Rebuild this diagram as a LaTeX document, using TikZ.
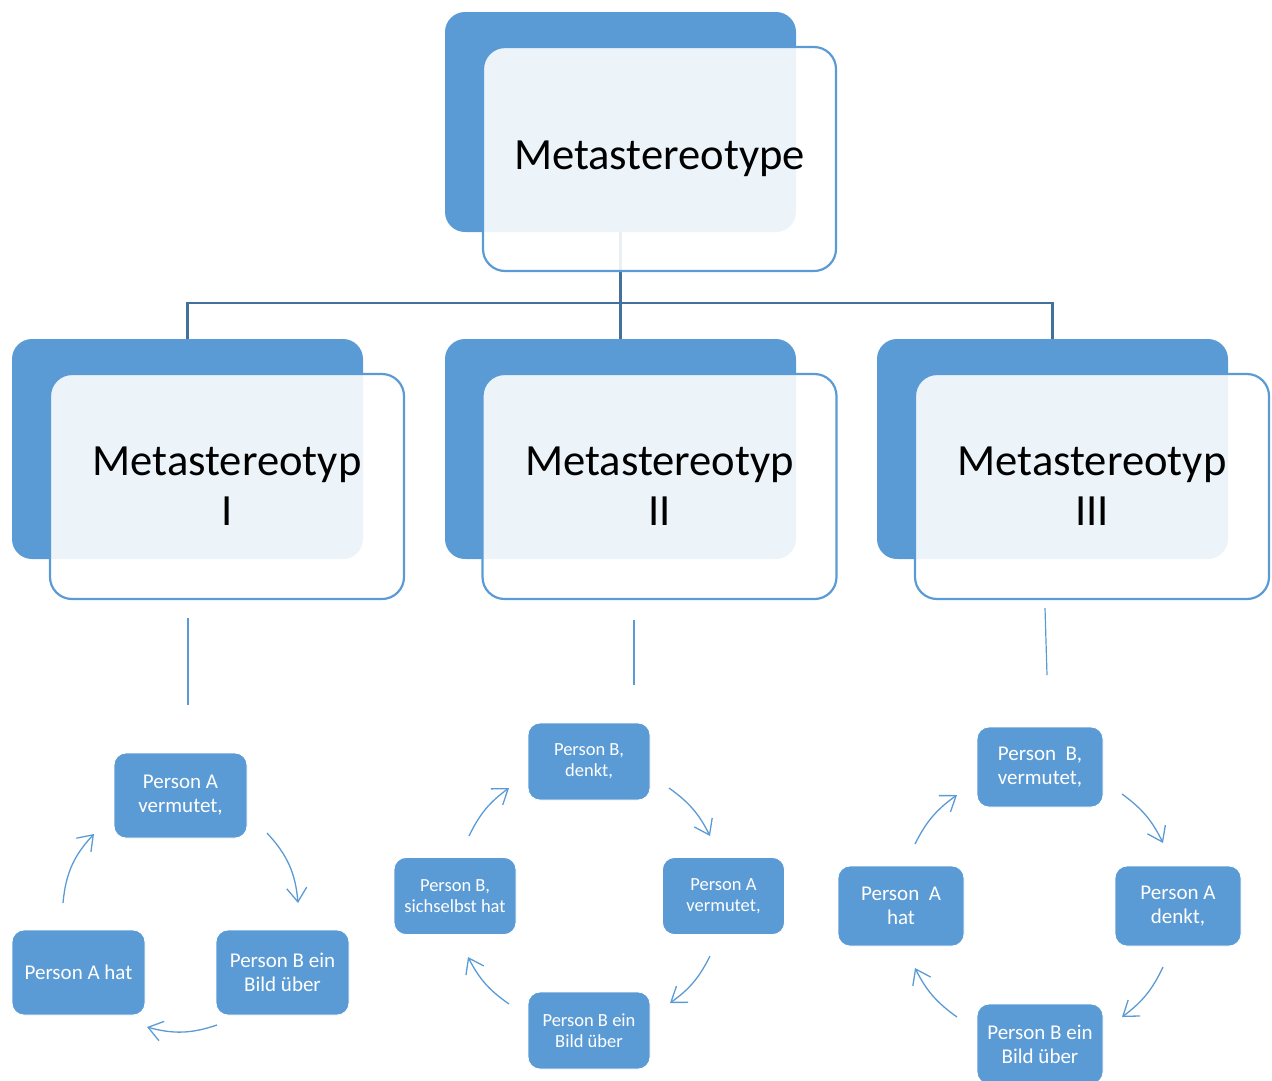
\documentclass[tikz,border=0pt]{standalone}
\usepackage{fontspec}
\setmainfont{Carlito}
\usetikzlibrary{arrows.meta}
\definecolor{accent}{HTML}{5B9BD5}
\definecolor{conn}{HTML}{41719C}
\pgfdeclarelayer{bg}
\pgfsetlayers{bg,main}
\begin{document}
\begin{tikzpicture}[x=1pt,y=1pt,
  backbox/.style={fill=accent, rounded corners=20pt, minimum width=351pt, minimum height=220pt, inner sep=0pt},
  frontbox/.style={fill=white, fill opacity=0.89, text opacity=1, draw=accent, line width=2.2pt, rounded corners=22pt,
     minimum width=353pt, minimum height=224pt, inner sep=0pt, align=center, font=\fontsize{44.6}{50}\selectfont},
  connline/.style={draw=conn, line width=2.6pt},
  thinline/.style={draw=accent, line width=1.2pt},
  cyc/.style={fill=accent, draw=white, line width=0.8pt, rounded corners=12pt, text=white, align=center, inner sep=0pt},
  cycI/.style={cyc, minimum width=133pt, minimum height=85pt, font=\fontsize{21}{24}\selectfont},
  cycII/.style={cyc, minimum width=122pt, minimum height=77pt, font=\fontsize{18.5}{21}\selectfont},
  cycIII/.style={cyc, minimum width=126pt, minimum height=80pt, font=\fontsize{21}{24}\selectfont},
  arr/.style={draw=accent, line width=1.3pt, -{Straight Barb[length=14pt,width=20pt]}}
]
\useasboundingbox (0,0) rectangle (1272,-1080);
\clip (0,0) rectangle (1272,-1080);

% top
\node[backbox] (tb) at (620.5,-122) {};
\node[frontbox] (tf) at (659.5,-159) {Metastereotype};

% level 2
\node[backbox] (b1) at (187.5,-449) {};
\node[frontbox, minimum width=354pt, minimum height=225pt] (f1) at (227,-486.5) {Metastereotyp\\I};
\node[backbox] (b2) at (620.5,-449) {};
\node[frontbox, minimum width=354pt, minimum height=225pt] (f2) at (659.5,-486.5) {Metastereotyp\\II};
\node[backbox] (b3) at (1052.5,-449) {};
\node[frontbox, minimum width=354pt, minimum height=225pt] (f3) at (1092,-486.5) {Metastereotyp\\III};

\coordinate (bar) at (0,-303);
\begin{pgfonlayer}{bg}
\draw[connline] (tb.south) -- (tb.south |- bar);
\draw[connline] (b1.north) |- (tb.south |- bar) -| (b3.north);
\draw[connline] (tb.south |- bar) -- (b2.north);
\end{pgfonlayer}

% thin lines below level 2
\coordinate (l1a) at (188,-618); \coordinate (l1b) at (188,-705);
\coordinate (l2a) at (634,-620); \coordinate (l2b) at (634,-685);
\coordinate (l3a) at (1045,-608); \coordinate (l3b) at (1047,-675);
\draw[thinline] (l1a) -- (l1b);
\draw[thinline] (l2a) -- (l2b);
\draw[thinline] (l3a) -- (l3b);

% cycle I
\node[cycI] (c1a) at (180.5,-795.5) {Person A\\vermutet,};
\node[cycI] (c1b) at (282.5,-972.5) {Person B ein\\Bild über};
\node[cycI] (c1c) at (78.5,-972.5) {Person A hat};
\coordinate (a1s) at (267,-833); \coordinate (a1e) at (298,-903);
\coordinate (a2s) at (217,-1025); \coordinate (a2e) at (147,-1027);
\coordinate (a3s) at (63,-903); \coordinate (a3e) at (94,-834);
\draw[arr] (a1s) to[bend left=19] (a1e);
\draw[arr] (a2s) to[bend left=17] (a2e);
\draw[arr] (a3s) to[bend left=19] (a3e);

% cycle II
\node[cycII] (c2a) at (589,-761.5) {Person B,\\denkt,};
\node[cycII] (c2b) at (723.5,-896) {Person A\\vermutet,};
\node[cycII] (c2c) at (589,-1030.5) {Person B ein\\Bild über};
\node[cycII] (c2d) at (455,-896) {Person B,\\sichselbst hat};
\coordinate (b1s) at (669,-788); \coordinate (b1e) at (710,-836);
\coordinate (b2s) at (710,-956); \coordinate (b2e) at (670,-1003);
\coordinate (b3s) at (509,-1004); \coordinate (b3e) at (468,-957);
\coordinate (b4s) at (469,-836); \coordinate (b4e) at (509,-788);
\draw[arr] (b1s) to[bend left=14] (b1e);
\draw[arr] (b2s) to[bend left=14] (b2e);
\draw[arr] (b3s) to[bend left=14] (b3e);
\draw[arr] (b4s) to[bend left=14] (b4e);

% cycle III
\node[cycIII] (c3a) at (1040,-767) {Person\ \ B,\\vermutet,};
\node[cycIII] (c3b) at (1178,-906) {Person A\\denkt,};
\node[cycIII] (c3c) at (1040,-1044) {Person B ein\\Bild über};
\node[cycIII] (c3d) at (901,-906) {Person\ \ A\\hat};
\coordinate (d1s) at (1122,-794); \coordinate (d1e) at (1163,-843);
\coordinate (d2s) at (1163,-967); \coordinate (d2e) at (1122,-1017);
\coordinate (d3s) at (957,-1017); \coordinate (d3e) at (915,-968);
\coordinate (d4s) at (915,-844); \coordinate (d4e) at (957,-795);
\draw[arr] (d1s) to[bend left=14] (d1e);
\draw[arr] (d2s) to[bend left=14] (d2e);
\draw[arr] (d3s) to[bend left=14] (d3e);
\draw[arr] (d4s) to[bend left=14] (d4e);
\end{tikzpicture}
\end{document}
